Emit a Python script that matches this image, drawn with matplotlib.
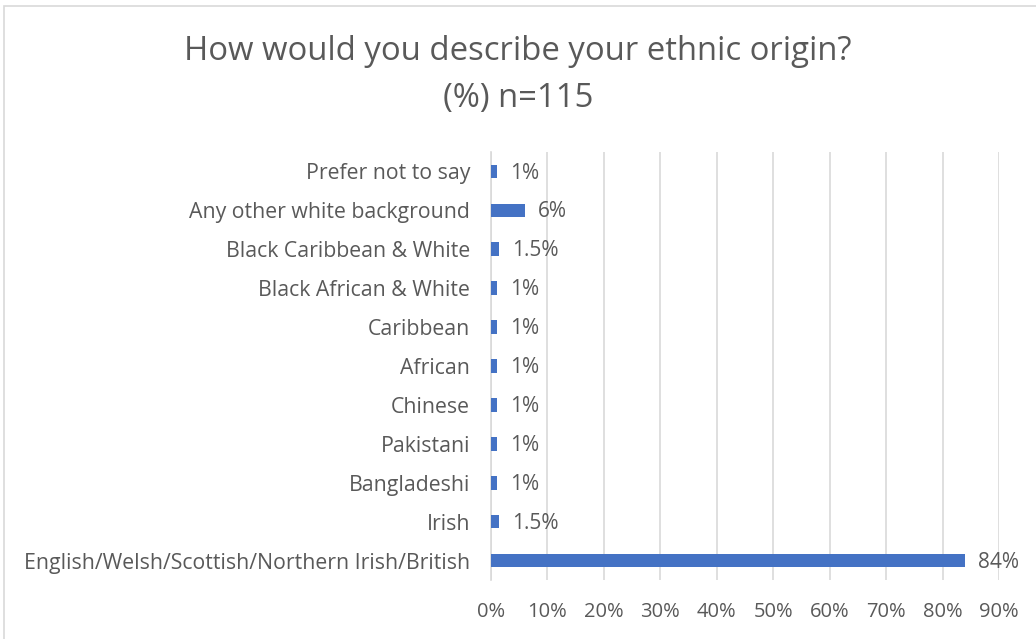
import matplotlib
matplotlib.use('Agg')
import matplotlib.pyplot as plt
from matplotlib.patches import Rectangle

plt.rcParams['font.family'] = ['Open Sans', 'DejaVu Sans']

categories = ['English/Welsh/Scottish/Northern Irish/British', 'Irish', 'Bangladeshi',
              'Pakistani', 'Chinese', 'African', 'Caribbean', 'Black African & White',
              'Black Caribbean & White', 'Any other white background', 'Prefer not to say']
values = [84, 1.5, 1, 1, 1, 1, 1, 1, 1.5, 6, 1]
value_labels = ['84%', '1.5%', '1%', '1%', '1%', '1%', '1%', '1%', '1.5%', '6%', '1%']
xticks = [0, 10, 20, 30, 40, 50, 60, 70, 80, 90]

txt = '#595959'
fig = plt.figure(figsize=(10.36, 6.39), dpi=100)
# chart frame
fig.patches.append(Rectangle((4 / 1036, -0.1), 1.2, (639 - 6) / 639 + 0.1, transform=fig.transFigure,
                             fill=False, edgecolor='#D9D9D9', linewidth=1.2))
ax = fig.add_axes([491 / 1036, (639 - 580) / 639, (999 - 491) / 1036, (580 - 152) / 639])

y = range(len(categories))
ax.barh(y, values, height=0.35, color='#4472C4', zorder=3)
for yi, v, lab in zip(y, values, value_labels):
    ax.text(v + 2.3, yi - 0.04, lab, va='center', ha='left', fontsize=15, color=txt, zorder=4)

ax.set_xlim(0, 90)
ax.set_ylim(-0.5, len(categories) - 0.5)
ax.set_xticks(xticks)
ax.set_xticklabels([f'{t}%' for t in xticks], fontsize=14.5, color=txt)
ax.set_yticks(list(y))
ax.set_yticklabels(categories, fontsize=15.3, color=txt)
ax.tick_params(length=0)
ax.tick_params(axis='x', pad=16)
ax.tick_params(axis='y', pad=15)
ax.grid(axis='x', color='#D9D9D9', linewidth=1.2, zorder=0)
for s in ['top', 'right', 'bottom']:
    ax.spines[s].set_visible(False)
ax.spines['left'].set_color('#D9D9D9')
ax.spines['left'].set_linewidth(1.2)

fig.text(0.5, 1 - 52 / 639, 'How would you describe your ethnic origin?', ha='center', va='center',
         fontsize=23.7, color=txt)
fig.text(0.5, 1 - 99 / 639, '(%) n=115', ha='center', va='center', fontsize=23.7, color=txt)

fig.savefig('out.png', dpi=100)
